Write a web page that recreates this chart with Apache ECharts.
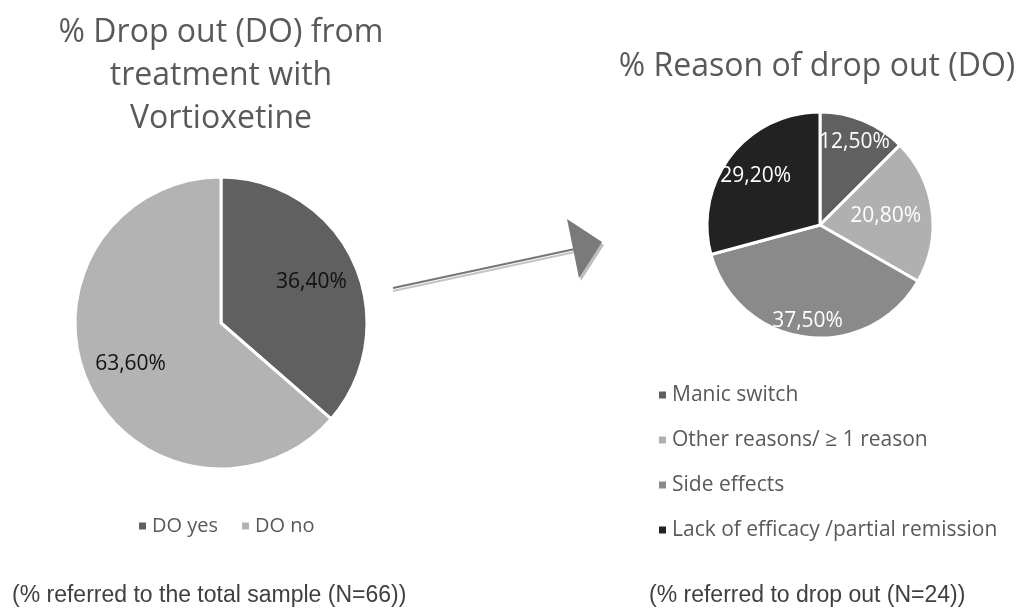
<!DOCTYPE html>
<html>
<head>
<meta charset="utf-8">
<script src="https://cdn.jsdelivr.net/npm/echarts@6/dist/echarts.min.js"></script>
<style>
  html, body { margin: 0; padding: 0; background: #fff; }
  #chart { width: 1022px; height: 608px; }
</style>
</head>
<body>
<div id="chart"></div>
<script>
// Drop-out share of the whole sample
const doCategories = ['DO yes', 'DO no'];
const doValues = [36.4, 63.6];
const doColors = ['#606060', '#b3b3b3'];

// Reasons among those who dropped out
const reasonCategories = ['Manic switch', 'Other reasons/ \u2265 1 reason', 'Side effects', 'Lack of efficacy /partial remission'];
const reasonValues = [12.5, 20.8, 37.5, 29.2];
const reasonColors = ['#606060', '#b0b0b0', '#8a8a8a', '#222222'];

const FONT = '"Open Sans", "Noto Sans", sans-serif';
const TEXT_GREY = '#595959';
const CLEAR = 'rgba(0,0,0,0)';

const fmt = p => p.value.toFixed(2).replace('.', ',') + '%';

function pieData(cats, vals, colors) {
  return cats.map((c, i) => ({ name: c, value: vals[i], itemStyle: { color: colors[i] } }));
}

// Transparent companion pie that only carries the value text of one slice.
// 'inside' labels sit at half the radius, so a radius of 2*ratio*r puts the
// text at ratio*r from the centre of the visible pie.
function labelCarrier(center, r, ratio, cats, vals, idx, color) {
  return {
    type: 'pie',
    center: center,
    radius: [0, 2 * ratio * r],
    startAngle: 90,
    clockwise: true,
    legendHoverLink: false,
    silent: true,
    z: 3,
    data: cats.map((c, i) => ({
      name: c, value: vals[i],
      itemStyle: { color: CLEAR },
      label: { show: i === idx }
    })),
    itemStyle: { borderWidth: 0 },
    label: { position: 'inside', formatter: fmt, fontFamily: FONT, fontSize: 21, color: color },
    labelLine: { show: false }
  };
}

const chart = echarts.init(document.getElementById('chart'), null, { renderer: 'canvas' });

const leftCenter = [221, 323], leftR = 146;
const rightCenter = [820, 225], rightR = 113;

const leftLabelRatio = [0.66, 0.66];
const rightLabelRatio = [0.77, 0.56, 0.83, 0.69];

const series = [
  {
    type: 'pie',
    center: leftCenter,
    radius: [0, leftR],
    startAngle: 90,
    clockwise: true,
    data: pieData(doCategories, doValues, doColors),
    itemStyle: { borderColor: '#ffffff', borderWidth: 3 },
    label: { show: false },
    labelLine: { show: false },
    silent: true
  },
  {
    type: 'pie',
    center: rightCenter,
    radius: [0, rightR],
    startAngle: 90,
    clockwise: true,
    data: pieData(reasonCategories, reasonValues, reasonColors),
    itemStyle: { borderColor: '#ffffff', borderWidth: 3 },
    label: { show: false },
    labelLine: { show: false },
    silent: true
  }
];
doValues.forEach((_, i) =>
  series.push(labelCarrier(leftCenter, leftR, leftLabelRatio[i], doCategories, doValues, i, '#111111')));
reasonValues.forEach((_, i) =>
  series.push(labelCarrier(rightCenter, rightR, rightLabelRatio[i], reasonCategories, reasonValues, i, '#ffffff')));

chart.setOption({
  backgroundColor: '#ffffff',
  animation: false,
  title: [
    {
      text: '% Drop out (DO) from\ntreatment with\nVortioxetine',
      left: 216, top: 6, textAlign: 'center',
      textStyle: { fontFamily: FONT, fontSize: 32, fontWeight: 'normal', color: TEXT_GREY, lineHeight: 43 }
    },
    {
      text: '% Reason of drop out (DO)',
      left: 812, top: 46, textAlign: 'center',
      textStyle: { fontFamily: FONT, fontSize: 32, fontWeight: 'normal', color: TEXT_GREY }
    },
    {
      text: '(% referred to the total sample (N=66))',
      left: 7, top: 579,
      textStyle: { fontFamily: '"Liberation Sans", Arial, sans-serif', fontSize: 23, fontWeight: 'normal', color: '#404040' }
    },
    {
      text: '(% referred to drop out (N=24))',
      left: 644, top: 579,
      textStyle: { fontFamily: '"Liberation Sans", Arial, sans-serif', fontSize: 23, fontWeight: 'normal', color: '#404040' }
    }
  ],
  legend: [
    {
      data: doCategories,
      orient: 'horizontal',
      left: 132, top: 510,
      icon: 'rect', itemWidth: 9, itemHeight: 9, itemGap: 22,
      textStyle: { fontFamily: FONT, fontSize: 20, color: TEXT_GREY, lineHeight: 22 },
      selectedMode: false
    },
    {
      data: reasonCategories,
      orient: 'vertical',
      left: 652, top: 379,
      icon: 'rect', itemWidth: 9, itemHeight: 9, itemGap: 23,
      textStyle: { fontFamily: FONT, fontSize: 21, color: TEXT_GREY, lineHeight: 22 },
      selectedMode: false
    }
  ],
  series: series,
  graphic: [
    // arrow linking the two pies: soft shadow first, then the shaft and head
    {
      type: 'line', silent: true,
      shape: { x1: 393, y1: 291, x2: 575, y2: 252 },
      style: { stroke: '#c4c4c4', lineWidth: 2 }
    },
    {
      type: 'polygon', silent: true,
      shape: { points: [[569, 222], [604, 245], [581, 281]] },
      style: { fill: '#bdbdbd' }
    },
    {
      type: 'line', silent: true,
      shape: { x1: 393, y1: 288, x2: 575, y2: 249 },
      style: { stroke: '#767676', lineWidth: 2 }
    },
    {
      type: 'polygon', silent: true,
      shape: { points: [[567, 219], [602, 242], [579, 278]] },
      style: { fill: '#7a7a7a' }
    }
  ]
});
</script>
</body>
</html>
